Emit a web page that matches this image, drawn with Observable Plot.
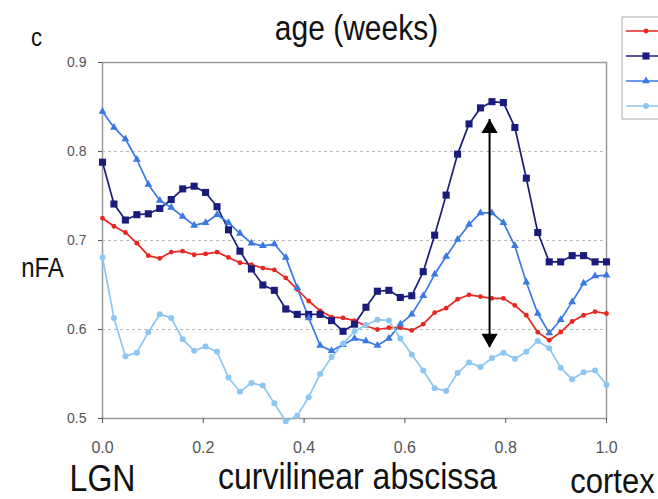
<!DOCTYPE html>
<html><head><meta charset="utf-8">
<script src="https://cdn.jsdelivr.net/npm/d3@7"></script>
<script src="https://cdn.jsdelivr.net/npm/@observablehq/plot@0.6"></script>
<style>body{margin:0;background:#fff} svg{display:block}</style>
</head><body><div id="chart"></div>
<script>
// sample positions along the tract (45 evenly spaced samples, 0 = LGN, 1 = cortex)
const abscissa = d3.range(45).map(i => i / 44);

const seriesNames = ["red", "navy", "blue", "lightblue"];
const seriesColors = ["#e8261f", "#1a1c7c", "#3a78e6", "#8cc6f2"];
const seriesSymbols = ["circle", "square", "triangle", "circle"];
const seriesRadius = [2.4, 4.0, 2.9, 3.0];

const redValues = [0.725,0.716,0.709,0.697,0.683,0.680,0.687,0.688,0.684,0.685,0.687,0.681,0.675,0.673,0.669,0.667,0.658,0.645,0.632,0.621,0.614,0.613,0.610,0.604,0.600,0.602,0.602,0.599,0.606,0.619,0.624,0.634,0.639,0.637,0.635,0.635,0.627,0.616,0.597,0.588,0.597,0.609,0.616,0.620,0.618];
const navyValues = [0.788,0.741,0.723,0.729,0.730,0.736,0.746,0.758,0.761,0.754,0.738,0.712,0.688,0.668,0.650,0.644,0.623,0.617,0.617,0.617,0.610,0.598,0.606,0.625,0.643,0.644,0.636,0.638,0.665,0.706,0.751,0.797,0.831,0.849,0.856,0.855,0.827,0.770,0.709,0.676,0.676,0.683,0.683,0.676,0.676];
const blueValues = [0.845,0.827,0.814,0.791,0.763,0.745,0.737,0.727,0.717,0.720,0.729,0.720,0.708,0.697,0.694,0.696,0.681,0.647,0.613,0.582,0.576,0.583,0.590,0.587,0.582,0.590,0.606,0.617,0.638,0.662,0.682,0.701,0.718,0.731,0.731,0.720,0.694,0.653,0.618,0.596,0.611,0.631,0.652,0.660,0.661];
const lightblueValues = [0.681,0.613,0.570,0.574,0.597,0.617,0.613,0.589,0.576,0.581,0.575,0.546,0.530,0.540,0.537,0.517,0.497,0.503,0.524,0.550,0.569,0.584,0.598,0.605,0.611,0.610,0.590,0.572,0.554,0.534,0.531,0.551,0.563,0.558,0.568,0.574,0.567,0.575,0.587,0.579,0.557,0.544,0.552,0.554,0.538];

const xTicks = [0, 0.2, 0.4, 0.6, 0.8, 1.0];
const yTicks = [0.5, 0.6, 0.7, 0.8, 0.9];
const yGrid = [0.6, 0.7, 0.8];

// double arrow marking the difference
const arrowX = [0.768];
const arrowTop = [0.836];
const arrowBottom = [0.580];

const titleText = "age (weeks)";
const panelText = "c";
const yLabelText = "nFA";
const xLeftText = "LGN";
const xLabelText = "curvilinear abscissa";
const xRightText = "cortex";

const allValues = [redValues, navyValues, blueValues, lightblueValues];
const table = [];
seriesNames.forEach((s, k) => allValues[k].forEach((v, i) => table.push({series: s, x: abscissa[i], y: v})));

const lineMarks = [], dotMarks = [];
seriesNames.forEach((s, k) => {
  const data = table.filter(d => d.series === s);
  lineMarks.push(Plot.line(data, {x: "x", y: "y", stroke: seriesColors[k], strokeWidth: 1.7}));
  dotMarks.push(Plot.dot(data, {x: "x", y: "y", fill: seriesColors[k], stroke: "none", symbol: seriesSymbols[k], r: seriesRadius[k]}));
});

const font = "'Liberation Sans', Arial, sans-serif";
const label = (t, dx, dy, size) => Plot.text([t], {text: d => d, frameAnchor: "top-left", textAnchor: "middle", lineAnchor: "middle", dx, dy, fontSize: size, fill: "#111"});

const chart = Plot.plot({
  width: 658, height: 499,
  marginLeft: 102, marginRight: 52, marginTop: 62, marginBottom: 81,
  style: {fontFamily: font, background: "#fff", overflow: "visible"},
  x: {domain: [0, 1]},
  y: {domain: [0.5, 0.9]},
  marks: [
    Plot.gridY(yGrid, {stroke: "#b8b8b8", strokeOpacity: 1, strokeDasharray: "3,3"}),
    Plot.frame({stroke: "#9a9a9a", strokeWidth: 1.5}),
    Plot.axisX({ticks: xTicks, tickFormat: d3.format(".1f"), tickSize: 5, tickPadding: 18, fontSize: 16, color: "#555", label: null}),
    Plot.axisY({ticks: yTicks, tickFormat: d3.format(".1f"), tickSize: 4, tickPadding: 12, fontSize: 14, color: "#555", label: null}),
    ...lineMarks,
    ...dotMarks,
    Plot.ruleX(arrowX, {x: d => d, y1: arrowBottom[0], y2: arrowTop[0], stroke: "#000", strokeWidth: 2}),
    Plot.dot(arrowX, {x: d => d, y: arrowTop[0], symbol: "triangle", r: 6, fill: "#000", dy: 9}),
    Plot.dot(arrowX, {x: d => d, y: arrowBottom[0], symbol: "triangle", r: 6, fill: "#000", rotate: 180, dy: -9}),
    label(panelText, -66, -25, 22),
    label(titleText, 254, -34, 30),
    label(yLabelText, -60, 206, 24),
    label(xLeftText, 0, 417, 32),
    label(xLabelText, 255, 415, 32),
    label(xRightText, 510, 419, 31)
  ]
});
document.getElementById("chart").append(chart);

// the original figure is slightly stretched vertically: mimic that on the big labels
const svg = d3.select(chart);
const stretched = new Set([titleText, panelText, yLabelText, xLeftText, xLabelText, xRightText]);
svg.selectAll("text").each(function () {
  if (stretched.has(this.textContent)) {
    const t = this.getAttribute("transform") || "";
    this.setAttribute("transform", t + " scale(1,1.15)");
  }
});

// legend box (labels are cut off in the original)
const lg = svg.append("g");
lg.append("rect").attr("x", 622).attr("y", 17).attr("width", 50).attr("height", 102)
  .attr("fill", "#fff").attr("stroke", "#aaa");
seriesNames.forEach((s, k) => {
  const yy = 31 + k * 25;
  lg.append("line").attr("x1", 626).attr("x2", 670).attr("y1", yy).attr("y2", yy)
    .attr("stroke", seriesColors[k]).attr("stroke-width", 1.7);
  lg.append("path").attr("transform", `translate(646,${yy})`)
    .attr("d", d3.symbol(seriesSymbols[k] === "square" ? d3.symbolSquare : seriesSymbols[k] === "triangle" ? d3.symbolTriangle : d3.symbolCircle, Math.PI * seriesRadius[k] ** 2)())
    .attr("fill", seriesColors[k]);
});
</script></body></html>
